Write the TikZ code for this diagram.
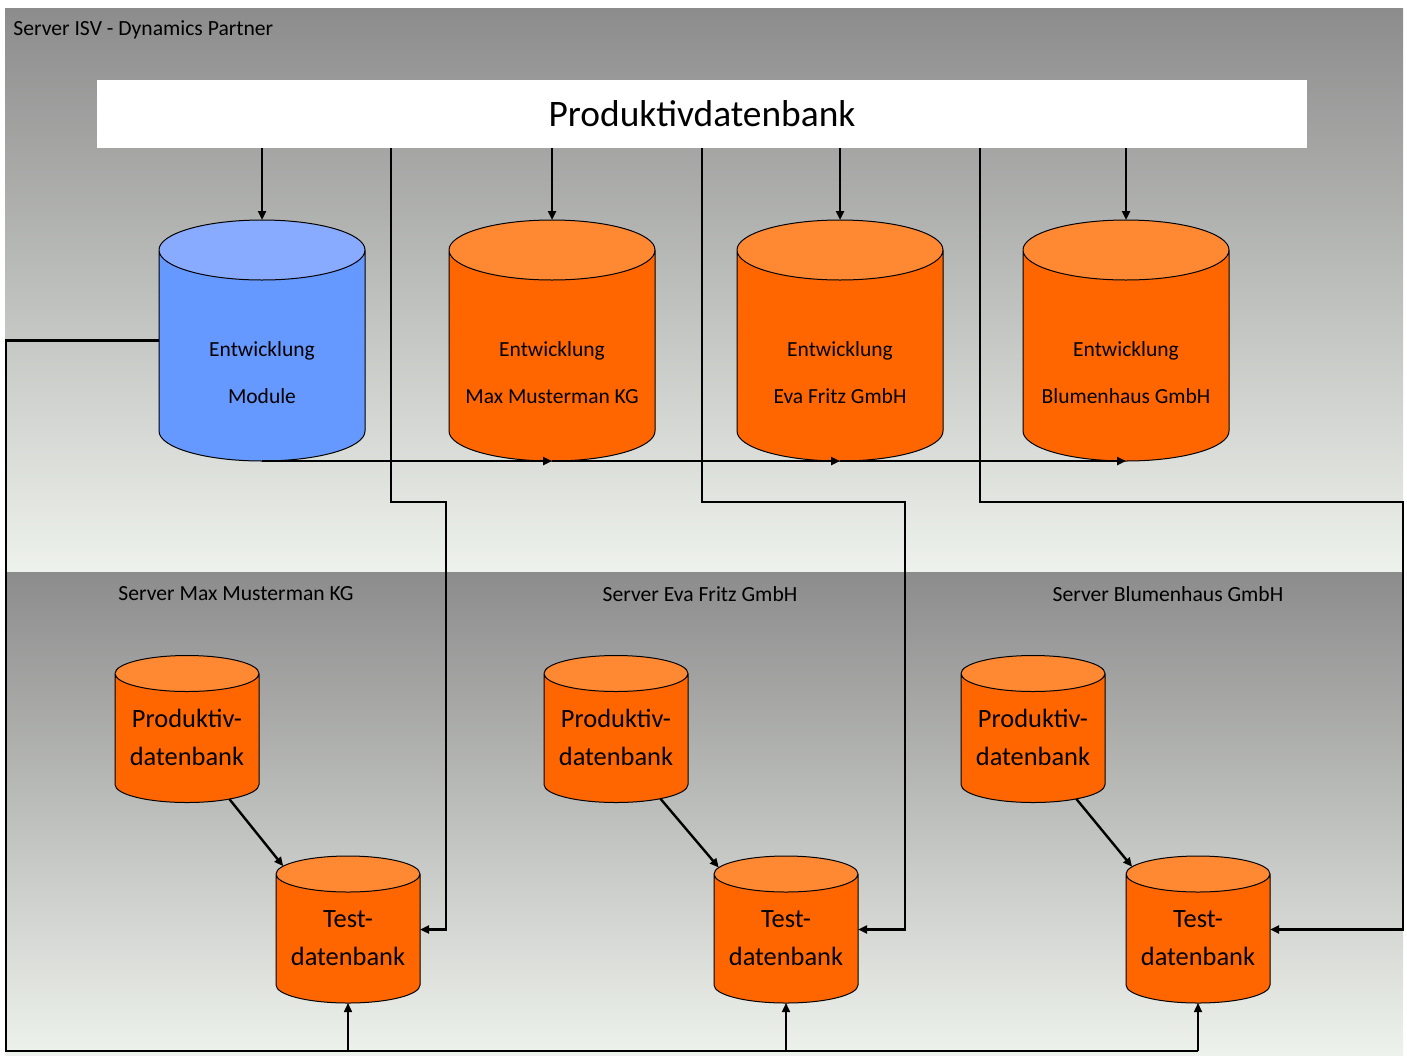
\documentclass[tikz,border=0pt]{standalone}
\usepackage{fontspec}
\setmainfont{Carlito}
\usetikzlibrary{shapes.geometric,arrows.meta}
\definecolor{panelTop}{RGB}{140,140,140}
\definecolor{panelBot}{RGB}{238,242,236}
\definecolor{blueBody}{RGB}{102,153,255}
\definecolor{blueEnd}{RGB}{136,170,255}
\definecolor{orangeBody}{RGB}{255,102,0}
\definecolor{orangeEnd}{RGB}{255,136,51}

\begin{document}
\begin{tikzpicture}[x=0.5pt, y=-0.5pt,
    db/.style={cylinder, shape border rotate=90, draw=black, line width=0.5pt,
      cylinder uses custom fill, outer sep=0pt, inner sep=20pt},
    devdb/.style={db, minimum width=103pt, minimum height=120.5pt, aspect=0.75},
    srvdb/.style={db, minimum width=72pt, minimum height=73.5pt, aspect=0.45},
    orangedb/.style={cylinder body fill=orangeBody, cylinder end fill=orangeEnd},
    bluedb/.style={cylinder body fill=blueBody, cylinder end fill=blueEnd},
    devtxt/.style={align=center, inner sep=0pt, font=\fontsize{10.75}{23.5}\selectfont},
    srvtxt/.style={align=center, inner sep=0pt, font=\fontsize{13.2}{19}\selectfont},
    link/.style={line width=1.2pt},
    arr/.style={link, -{Triangle[length=4.5pt,width=4pt]}},
    server/.style={font=\fontsize{10.8}{12}\selectfont, inner sep=0pt}]
  \useasboundingbox (0,0) rectangle (1407,1055);

  % backgrounds
  \shade[top color=panelTop, bottom color=panelBot] (5,8) rectangle (1403,572);
  \foreach \x/\X in {5/470, 470/935, 935/1403}{%
    \shade[top color=panelTop, bottom color=panelBot] (\x,572) rectangle (\X,1055);
  }

  % labels
  \node[server, anchor=west] (srvISV) at (13,30) {Server ISV - Dynamics Partner};
  \foreach \n/\x/\txt in {Max/236/Server Max Musterman KG, Eva/700/Server Eva Fritz GmbH,
      Blu/1168/Server Blumenhaus GmbH}{%
    \node[server] (srv\n) at (\x,594) {\txt};
  }

  \node[fill=white, inner sep=0pt, minimum width=605pt, minimum height=34pt,
    font=\fontsize{18.7}{20}\selectfont] (prod) at (702,114) {Produktivdatenbank};

  % development databases
  \node[devdb, bluedb, anchor=shape center] (devMod) at (262,340.5) {};
  \node[devtxt] (txtMod) at (262,372.5) {Entwicklung\\Module};
  \foreach \n/\x/\txt in {Max/552/Max Musterman KG, Eva/840/Eva Fritz GmbH,
      Blu/1126/Blumenhaus GmbH}{%
    \node[devdb, orangedb, anchor=shape center] (dev\n) at (\x,340.5) {};
    \node[devtxt] (txt\n) at (\x,372.5) {Entwicklung\\\txt};
  }

  % customer databases
  \foreach \n/\px/\tx in {Max/187/348, Eva/616/786, Blu/1033/1198}{%
    \node[srvdb, orangedb, anchor=shape center] (prod\n) at (\px,729) {};
    \node[srvtxt] (ptxt\n) at (\px,737) {Produktiv-\\datenbank};
    \node[srvdb, orangedb, anchor=shape center] (test\n) at (\tx,929.5) {};
    \node[srvtxt] (ttxt\n) at (\tx,938) {Test-\\datenbank};
    \draw[arr] (prod\n) -- (test\n);
  }

  % connectors
  \foreach \n in {Mod,Max,Eva,Blu}{%
    \draw[arr] (dev\n.top |- prod.south) -- (dev\n.top);
  }
  \draw[arr] (devMod.bottom) -- (devMax.bottom);
  \draw[arr] (devMax.bottom) -- (devEva.bottom);
  \draw[arr] (devEva.bottom) -- (devBlu.bottom);

  \foreach \n/\sx/\bx in {Max/391/446, Eva/702/905, Blu/980/1403}{%
    \coordinate (src\n) at (\sx,148);
    \coordinate (bend\n) at (\bx,502);
    \draw[arr] (src\n) |- (bend\n) |- (test\n.shape center -| test\n.east);
  }

  \coordinate (busL) at (6,1051);
  \draw[link] (devMod.west |- devMod.shape center) -| (busL) -- (testBlu.bottom |- busL);
  \foreach \n in {Max,Eva,Blu}{%
    \draw[arr, line width=0.8pt] (test\n.bottom |- busL) -- (test\n.bottom);
  }
\end{tikzpicture}
\end{document}
